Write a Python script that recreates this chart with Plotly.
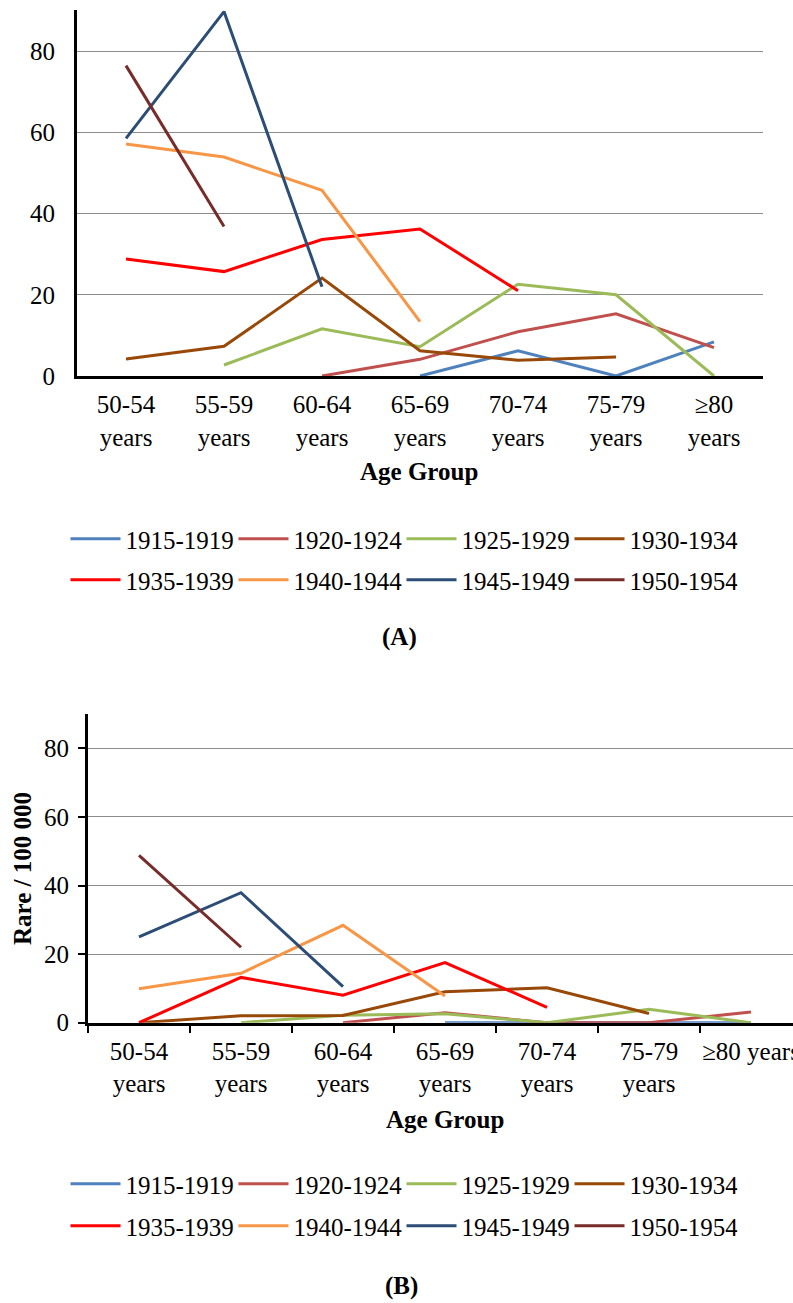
import plotly.graph_objects as go

W, H = 793, 1303

categories = ["50-54 years", "55-59 years", "60-64 years", "65-69 years",
              "70-74 years", "75-79 years", "≥80 years"]
ticktext_a = ["50-54<br>years", "55-59<br>years", "60-64<br>years", "65-69<br>years",
              "70-74<br>years", "75-79<br>years", "≥80<br>years"]
ticktext_b = ["50-54<br>years", "55-59<br>years", "60-64<br>years", "65-69<br>years",
              "70-74<br>years", "75-79<br>years", "≥80 years"]

cohorts = ["1915-1919", "1920-1924", "1925-1929", "1930-1934",
           "1935-1939", "1940-1944", "1945-1949", "1950-1954"]
colors = ["#4F81BD", "#C0504D", "#9BBB59", "#984807",
          "#FF0000", "#F79646", "#2C4D75", "#772C2A"]

# Panel A values
a_1915 = [None, None, None, 0.0, 6.2, 0.0, 8.4]
a_1920 = [None, None, 0.0, 4.1, 10.9, 15.3, 7.0]
a_1925 = [None, 2.7, 11.6, 7.2, 22.6, 20.0, 0.0]
a_1930 = [4.2, 7.3, 24.1, 6.2, 3.9, 4.7, None]
a_1935 = [28.8, 25.7, 33.6, 36.2, 21.0, None, None]
a_1940 = [57.1, 53.9, 45.7, 13.4, None, None, None]
a_1945 = [58.5, 89.7, 22.0, None, None, None, None]
a_1950 = [76.4, 36.8, None, None, None, None, None]

# Panel B values
b_1915 = [None, None, None, 0.0, 0.0, 0.0, 0.0]
b_1920 = [None, None, 0.0, 2.9, 0.0, 0.0, 3.1]
b_1925 = [None, 0.0, 2.2, 2.6, 0.0, 3.9, 0.0]
b_1930 = [0.0, 2.0, 2.1, 9.0, 10.2, 2.7, None]
b_1935 = [0.0, 13.2, 8.0, 17.5, 4.5, None, None]
b_1940 = [9.9, 14.4, 28.4, 7.8, None, None, None]
b_1945 = [25.0, 37.9, 10.5, None, None, None, None]
b_1950 = [48.8, 22.0, None, None, None, None, None]

yticks = [0, 20, 40, 60, 80]

series_a = [a_1915, a_1920, a_1925, a_1930, a_1935, a_1940, a_1945, a_1950]
series_b = [b_1915, b_1920, b_1925, b_1930, b_1935, b_1940, b_1945, b_1950]

FONT = "Liberation Serif, Times New Roman, serif"
FS = 25

fig = go.Figure()
for i, (name, col, vals) in enumerate(zip(cohorts, colors, series_a)):
    fig.add_trace(go.Scatter(
        x=categories, y=vals, mode="lines", name=name,
        line=dict(color=col, width=3), connectgaps=False,
        xaxis="x", yaxis="y", legend="legend" if i < 4 else "legend2"))
for i, (name, col, vals) in enumerate(zip(cohorts, colors, series_b)):
    fig.add_trace(go.Scatter(
        x=categories, y=vals, mode="lines", name=name,
        line=dict(color=col, width=3), connectgaps=False,
        xaxis="x2", yaxis="y2", legend="legend3" if i < 4 else "legend4"))

def px_x(p):
    return p / W

def px_y(p):
    return 1 - p / H

common_leg = dict(orientation="h", xanchor="left", yanchor="middle",
                  font=dict(family=FONT, size=FS, color="black"),
                  itemwidth=50,
                  entrywidth=103, entrywidthmode="pixels",
                  bgcolor="rgba(0,0,0,0)", itemclick=False, itemdoubleclick=False,
                  traceorder="normal")

fig.update_layout(
    width=W, height=H, autosize=False,
    margin=dict(l=0, r=0, t=0, b=0, pad=0, autoexpand=False),
    paper_bgcolor="white", plot_bgcolor="white",
    font=dict(family=FONT, size=FS, color="black"),
    showlegend=True,
    xaxis=dict(domain=[px_x(77), px_x(763)], type="category",
               categoryorder="array", categoryarray=categories,
               range=[-0.5, 6.5], tickvals=categories, ticktext=ticktext_a,
               showline=True, linecolor="black", linewidth=3,
               showgrid=False, ticks="", ticklabelstandoff=4, tickangle=0,
               automargin=False,
               tickfont=dict(family=FONT, size=FS), anchor="y", fixedrange=True),
    yaxis=dict(domain=[px_y(376), px_y(10.4)], range=[0, 90],
               tickvals=yticks, showline=True, linecolor="black", linewidth=3,
               showgrid=True, gridcolor="#8C8C8C", gridwidth=1,
               zeroline=False, ticks="", ticklabelstandoff=14, automargin=False,
               tickfont=dict(family=FONT, size=FS), anchor="x", fixedrange=True),
    xaxis2=dict(domain=[px_x(88), 1.0], type="category",
                categoryorder="array", categoryarray=categories,
                range=[-0.5, -0.5 + (W - 88) / 102.0],
                tickvals=categories, ticktext=ticktext_b,
                showline=True, linecolor="black", linewidth=3,
                showgrid=False, ticks="outside", ticklen=7, tickwidth=2,
                tickcolor="black", tickson="boundaries", ticklabelstandoff=4,
                tickangle=0, automargin=False,
                tickfont=dict(family=FONT, size=FS), anchor="y2", fixedrange=True),
    yaxis2=dict(domain=[px_y(1022.7), px_y(714.0)], range=[0, 90],
                tickvals=yticks, showline=True, linecolor="black", linewidth=3,
                showgrid=True, gridcolor="#8C8C8C", gridwidth=1,
                zeroline=False, ticks="outside", ticklen=7, tickwidth=2,
                tickcolor="black", ticklabelstandoff=4, automargin=False,
                tickfont=dict(family=FONT, size=FS), anchor="x2", fixedrange=True),
    legend=dict(common_leg, x=px_x(65.5), y=px_y(539)),
    legend2=dict(common_leg, x=px_x(65.5), y=px_y(580)),
    legend3=dict(common_leg, x=px_x(65.5), y=px_y(1184)),
    legend4=dict(common_leg, x=px_x(65.5), y=px_y(1226)),
    annotations=[
        dict(text="<b>Age Group</b>", x=px_x(419), y=px_y(471), xref="paper", yref="paper",
             showarrow=False, font=dict(family=FONT, size=FS), xanchor="center", yanchor="middle"),
        dict(text="<b>(A)</b>", x=px_x(399), y=px_y(637), xref="paper", yref="paper",
             showarrow=False, font=dict(family=FONT, size=FS), xanchor="center", yanchor="middle"),
        dict(text="<b>Age Group</b>", x=px_x(445), y=px_y(1119), xref="paper", yref="paper",
             showarrow=False, font=dict(family=FONT, size=FS), xanchor="center", yanchor="middle"),
        dict(text="<b>(B)</b>", x=px_x(401), y=px_y(1286), xref="paper", yref="paper",
             showarrow=False, font=dict(family=FONT, size=FS), xanchor="center", yanchor="middle"),
        dict(text="<b>Rare / 100 000</b>", x=px_x(22), y=px_y(869), xref="paper", yref="paper",
             showarrow=False, textangle=-90, font=dict(family=FONT, size=FS),
             xanchor="center", yanchor="middle"),
    ],
)

post = ("document.documentElement.style.margin='0';"
        "document.documentElement.style.overflow='hidden';"
        "document.body.style.margin='0';"
        "document.body.style.overflow='hidden';"
        "var d=document.getElementById('{plot_id}');"
        "d.style.display='block';"
        "if(d.parentElement){d.parentElement.style.height='1303px';d.parentElement.style.overflow='hidden';}")

fig.write_html("out.html", config={"displayModeBar": False, "responsive": False},
               post_script=post)
